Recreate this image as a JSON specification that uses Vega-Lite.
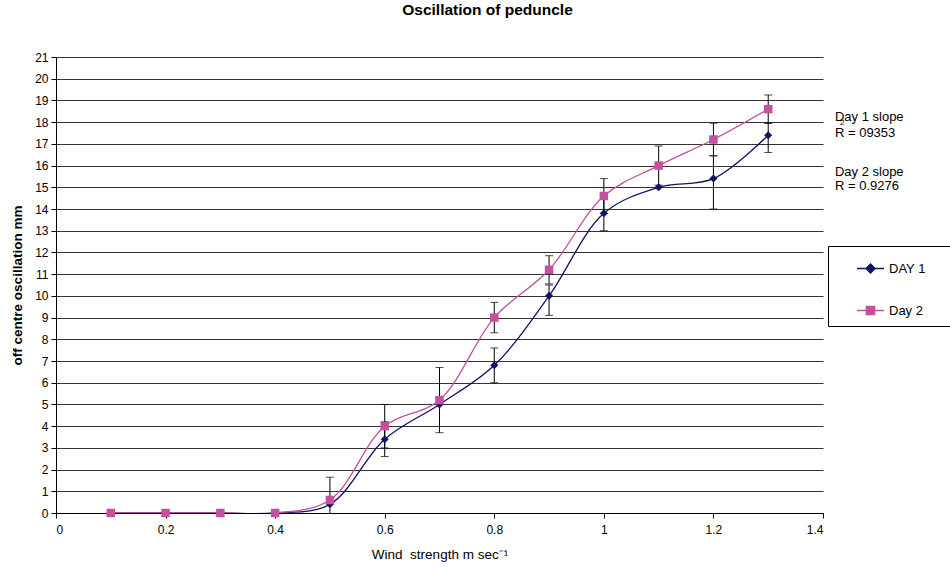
{
  "$schema": "https://vega.github.io/schema/vega-lite/v6.json",
  "width": 767,
  "height": 456,
  "autosize": {"type": "none"},
  "padding": {"left": 56, "top": 57, "right": 127, "bottom": 54},
  "background": "white",
  "title": {"text": "Oscillation of peduncle", "font": "Liberation Sans", "fontSize": 15.5, "fontWeight": "bold", "color": "#000", "anchor": "middle", "dx": 48, "offset": 33},
  "config": {"view": {"stroke": null}, "font": "Liberation Sans"},
  "datasets": {
    "pts": [
      {"series": "DAY 1", "x": 0.1, "y": 0}, {"series": "DAY 1", "x": 0.2, "y": 0}, {"series": "DAY 1", "x": 0.3, "y": 0},
      {"series": "DAY 1", "x": 0.4, "y": 0}, {"series": "DAY 1", "x": 0.5, "y": 0.4}, {"series": "DAY 1", "x": 0.6, "y": 3.4},
      {"series": "DAY 1", "x": 0.7, "y": 5.0}, {"series": "DAY 1", "x": 0.8, "y": 6.8}, {"series": "DAY 1", "x": 0.9, "y": 10.0},
      {"series": "DAY 1", "x": 1.0, "y": 13.8}, {"series": "DAY 1", "x": 1.1, "y": 15.0}, {"series": "DAY 1", "x": 1.2, "y": 15.4},
      {"series": "DAY 1", "x": 1.3, "y": 17.4},
      {"series": "Day 2", "x": 0.1, "y": 0}, {"series": "Day 2", "x": 0.2, "y": 0}, {"series": "Day 2", "x": 0.3, "y": 0},
      {"series": "Day 2", "x": 0.4, "y": 0}, {"series": "Day 2", "x": 0.5, "y": 0.6}, {"series": "Day 2", "x": 0.6, "y": 4.0},
      {"series": "Day 2", "x": 0.7, "y": 5.2}, {"series": "Day 2", "x": 0.8, "y": 9.0}, {"series": "Day 2", "x": 0.9, "y": 11.2},
      {"series": "Day 2", "x": 1.0, "y": 14.6}, {"series": "Day 2", "x": 1.1, "y": 16.0}, {"series": "Day 2", "x": 1.2, "y": 17.2},
      {"series": "Day 2", "x": 1.3, "y": 18.6}
    ],
    "err": [
      {"series": "DAY 1", "x": 0.6, "low": 2.6, "high": 4.2},
      {"series": "DAY 1", "x": 0.8, "low": 6.0, "high": 7.6},
      {"series": "DAY 1", "x": 0.9, "low": 9.1, "high": 10.5},
      {"series": "DAY 1", "x": 1.0, "low": 13.0, "high": 14.6},
      {"series": "DAY 1", "x": 1.2, "low": 14.0, "high": 16.45},
      {"series": "DAY 1", "x": 1.3, "low": 16.6, "high": 17.95},
      {"series": "Day 2", "x": 0.5, "low": -0.45, "high": 1.65},
      {"series": "Day 2", "x": 0.6, "low": 3.0, "high": 5.0},
      {"series": "Day 2", "x": 0.7, "low": 3.7, "high": 6.7},
      {"series": "Day 2", "x": 0.8, "low": 8.3, "high": 9.7},
      {"series": "Day 2", "x": 0.9, "low": 10.55, "high": 11.85},
      {"series": "Day 2", "x": 1.0, "low": 13.8, "high": 15.4},
      {"series": "Day 2", "x": 1.1, "low": 15.1, "high": 16.9},
      {"series": "Day 2", "x": 1.2, "low": 16.45, "high": 17.95},
      {"series": "Day 2", "x": 1.3, "low": 17.95, "high": 19.25}
    ],
    "notes": [
      {"x": 1.4218, "y": 18.24, "label": "Day 1 slope"},
      {"x": 1.4218, "y": 17.52, "label": "R  = 09353"},
      {"x": 1.4218, "y": 15.70, "label": "Day 2 slope"},
      {"x": 1.4218, "y": 15.04, "label": "R  = 0.9276"}
    ],
    "sup": [
      {"x": 1.431, "y": 17.98, "label": "2"}
    ]
  },
  "encoding": {
    "x": {"field": "x", "type": "quantitative", "title": "Wind\u00a0 strength m sec⁻¹", "scale": {"domain": [0, 1.4], "nice": false, "zero": false},
      "axis": {"values": [0, 0.2, 0.4, 0.6, 0.8, 1, 1.2, 1.4], "format": "~g", "grid": false, "labelOverlap": false,
        "domainColor": "#000", "tickColor": "#000", "tickSize": 5, "labelFont": "Liberation Sans", "labelFontSize": 12, "labelColor": "#000",
        "labelPadding": 6, "titleFont": "Liberation Sans", "titleFontSize": 13.5, "titleFontWeight": "normal", "titleColor": "#000", "titlePadding": 12}},
    "y": {"field": "y", "type": "quantitative", "title": "off centre oscillation mm", "scale": {"domain": [0, 21], "nice": false},
      "axis": {"values": [0,1,2,3,4,5,6,7,8,9,10,11,12,13,14,15,16,17,18,19,20,21], "format": "d", "labelOverlap": false,
        "grid": true, "gridColor": "#333333", "gridWidth": 1, "domainColor": "#000", "tickColor": "#000", "tickSize": 5,
        "labelFont": "Liberation Sans", "labelFontSize": 12, "labelColor": "#000", "labelPadding": 3,
        "titleFont": "Liberation Sans", "titleFontSize": 13.5, "titleFontWeight": "bold", "titleColor": "#000", "titlePadding": 10}}
  },
  "layer": [
    {
      "data": {"name": "pts"},
      "mark": {"type": "line", "interpolate": "catmull-rom", "strokeWidth": 1.3, "clip": true},
      "encoding": {
        "color": {"field": "series", "type": "nominal", "scale": {"domain": ["DAY 1", "Day 2"], "range": ["#0f1463", "#c4509e"]},
          "legend": {"orient": "none", "legendX": 772, "legendY": 189, "title": null, "padding": 8, "symbolOffset": 20, "rowPadding": 20,
            "symbolSize": 729, "symbolStrokeWidth": 1.5, "labelFont": "Liberation Sans", "labelFontSize": 13, "labelColor": "#000", "labelOffset": 4,
            "strokeColor": "#000", "fillColor": "#fff", "labelExpr": "datum.label + '\u2800\u2800\u2800'",
            "encode": {"symbols": {"update": {
              "shape": {"signal": "datum.value === 'DAY 1' ? 'M-1,0H1M-0.33,0L0,-0.33L0.33,0L0,0.33Z' : 'M-1,0H1M-0.3,-0.3H0.3V0.3H-0.3Z'"},
              "fill": {"signal": "datum.value === 'DAY 1' ? '#0f1463' : '#c4509e'"},
              "stroke": {"signal": "datum.value === 'DAY 1' ? '#0f1463' : '#c4509e'"},
              "opacity": {"value": 1}
            }}}}}
      }
    },
    {
      "data": {"name": "err"},
      "mark": {"type": "rule", "color": "#000", "strokeWidth": 1, "clip": true},
      "encoding": {
        "y": {"field": "low", "type": "quantitative", "title": "off centre oscillation mm",
          "axis": {"values": [0,1,2,3,4,5,6,7,8,9,10,11,12,13,14,15,16,17,18,19,20,21], "format": "d", "labelOverlap": false,
            "grid": true, "gridColor": "#333333", "gridWidth": 1, "domainColor": "#000", "tickColor": "#000", "tickSize": 5,
            "labelFont": "Liberation Sans", "labelFontSize": 12, "labelColor": "#000", "labelPadding": 3,
            "titleFont": "Liberation Sans", "titleFontSize": 13.5, "titleFontWeight": "bold", "titleColor": "#000", "titlePadding": 10}},
        "y2": {"field": "high"}
      }
    },
    {
      "data": {"name": "err"},
      "mark": {"type": "tick", "orient": "horizontal", "size": 8, "thickness": 1, "color": "#000", "clip": true},
      "encoding": {
        "y": {"field": "low", "type": "quantitative", "title": "off centre oscillation mm",
          "axis": {"values": [0,1,2,3,4,5,6,7,8,9,10,11,12,13,14,15,16,17,18,19,20,21], "format": "d", "labelOverlap": false,
            "grid": true, "gridColor": "#333333", "gridWidth": 1, "domainColor": "#000", "tickColor": "#000", "tickSize": 5,
            "labelFont": "Liberation Sans", "labelFontSize": 12, "labelColor": "#000", "labelPadding": 3,
            "titleFont": "Liberation Sans", "titleFontSize": 13.5, "titleFontWeight": "bold", "titleColor": "#000", "titlePadding": 10}}
      }
    },
    {
      "data": {"name": "err"},
      "mark": {"type": "tick", "orient": "horizontal", "size": 8, "thickness": 1, "color": "#000", "clip": true},
      "encoding": {
        "y": {"field": "high", "type": "quantitative", "title": "off centre oscillation mm",
          "axis": {"values": [0,1,2,3,4,5,6,7,8,9,10,11,12,13,14,15,16,17,18,19,20,21], "format": "d", "labelOverlap": false,
            "grid": true, "gridColor": "#333333", "gridWidth": 1, "domainColor": "#000", "tickColor": "#000", "tickSize": 5,
            "labelFont": "Liberation Sans", "labelFontSize": 12, "labelColor": "#000", "labelPadding": 3,
            "titleFont": "Liberation Sans", "titleFontSize": 13.5, "titleFontWeight": "bold", "titleColor": "#000", "titlePadding": 10}}
      }
    },
    {
      "data": {"name": "pts"},
      "transform": [{"filter": "datum.series === 'DAY 1'"}],
      "mark": {"type": "point", "filled": true, "opacity": 1, "size": 64, "shape": "diamond"},
      "encoding": {
        "color": {"field": "series", "type": "nominal", "legend": null}
      }
    },
    {
      "data": {"name": "pts"},
      "transform": [{"filter": "datum.series === 'Day 2'"}],
      "mark": {"type": "point", "filled": true, "opacity": 1, "size": 72, "shape": "square"},
      "encoding": {
        "color": {"field": "series", "type": "nominal", "legend": null}
      }
    },
    {
      "data": {"name": "notes"},
      "mark": {"type": "text", "align": "left", "baseline": "middle", "font": "Liberation Sans", "fontSize": 13, "color": "#000"},
      "encoding": {
        "text": {"field": "label"}
      }
    },
    {
      "data": {"name": "sup"},
      "mark": {"type": "text", "align": "left", "baseline": "middle", "font": "Liberation Sans", "fontSize": 8, "color": "#000"},
      "encoding": {
        "text": {"field": "label"}
      }
    }
  ]
}
